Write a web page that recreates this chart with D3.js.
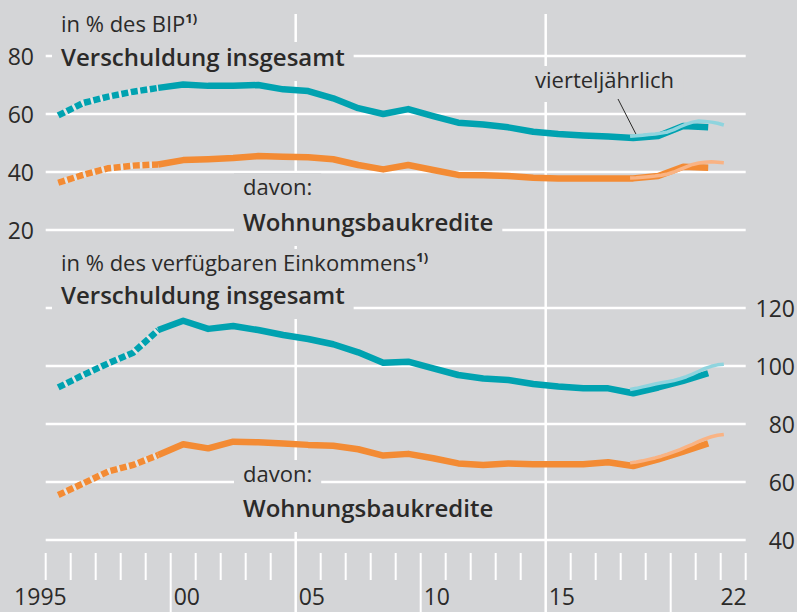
<!DOCTYPE html>
<html>
<head>
<meta charset="utf-8">
<script src="https://cdn.jsdelivr.net/npm/d3@7"></script>
<style>
  body { margin: 0; background: #d4d5d7; }
  svg text { font-family: "Open Sans", sans-serif; fill: #2b2a29; }
</style>
</head>
<body>
<div id="chart"></div>
<script>
// annual values, 1995 - 2021
var years = [1995, 1996, 1997, 1998, 1999, 2000, 2001, 2002, 2003, 2004, 2005, 2006, 2007, 2008,
             2009, 2010, 2011, 2012, 2013, 2014, 2015, 2016, 2017, 2018, 2019, 2020, 2021];
var bipTotal   = [59.5, 63.8, 66.0, 67.7, 69.0, 70.2, 69.7, 69.7, 70.0, 68.5, 67.9, 65.4, 62.0, 60.0,
                  61.7, 59.3, 57.0, 56.4, 55.4, 53.9, 53.1, 52.6, 52.2, 51.7, 52.4, 55.9, 55.4];
var bipHousing = [36.3, 39.0, 41.3, 42.2, 42.6, 44.1, 44.4, 44.8, 45.5, 45.3, 45.1, 44.4, 42.4, 40.9,
                  42.4, 40.7, 39.0, 38.9, 38.6, 38.0, 37.8, 37.8, 37.8, 37.8, 38.6, 41.8, 41.5];
var incTotal   = [92.6, 96.9, 100.9, 104.6, 112.4, 115.6, 112.8, 113.8, 112.4, 110.7, 109.3, 107.5, 104.7, 101.1,
                  101.5, 99.2, 96.9, 95.7, 95.2, 93.8, 92.9, 92.3, 92.3, 90.6, 92.6, 94.9, 97.5];
var incHousing = [55.5, 59.5, 63.6, 65.9, 69.3, 73.0, 71.6, 73.9, 73.7, 73.3, 72.8, 72.5, 71.3, 69.1,
                  69.7, 68.2, 66.4, 65.9, 66.4, 66.1, 66.1, 66.1, 66.8, 65.5, 67.8, 70.5, 73.3];

// quarterly values
var quarters = ["2018Q2", "2018Q3", "2018Q4", "2019Q1", "2019Q2", "2019Q3", "2019Q4", "2020Q1",
                "2020Q2", "2020Q3", "2020Q4", "2021Q1", "2021Q2", "2021Q3", "2021Q4", "2022Q1"];
var bipTotalQ   = [52.3, 52.5, 52.7, 52.9, 53.1, 53.4, 53.8, 54.6, 55.6, 56.5, 57.2, 57.6, 57.4, 57.2, 56.8, 56.2];
var bipHousingQ = [37.9, 38.0, 38.2, 38.4, 38.6, 38.9, 39.3, 40.0, 40.9, 41.8, 42.6, 43.1, 43.4, 43.5, 43.4, 43.2];
var incTotalQ   = [91.9, 92.3, 92.8, 93.3, 93.8, 94.2, 94.6, 95.0, 95.6, 96.3, 97.2, 98.2, 99.2, 99.9, 100.4, 100.6];
var incHousingQ = [66.6, 66.9, 67.3, 67.8, 68.3, 68.9, 69.6, 70.4, 71.2, 72.1, 73.0, 74.0, 74.9, 75.6, 76.1, 76.4];

var dashedUntil = 1999;   // values before 1999 drawn dashed
var topTicks = [20, 40, 60, 80];
var botTicks = [40, 60, 80, 100, 120];
var xLabelYears = [1995, 2000, 2005, 2010, 2015, 2022];
var xLabels = ["1995", "00", "05", "10", "15", "22"];

var width = 797, height = 612;
var bg = "#d4d5d7";
var teal = "#00a2b0", tealLight = "#8fd4de";
var orange = "#f38b34", orangeLight = "#f9b384";

var x = d3.scaleLinear().domain([1995, 2023]).range([45.7, 745.7]);
var yTop = d3.scaleLinear().domain([20, 80]).range([230, 56]);
var yBot = d3.scaleLinear().domain([40, 120]).range([540, 308]);

var svg = d3.select("#chart").append("svg")
    .attr("width", width)
    .attr("height", height);

svg.append("rect").attr("width", width).attr("height", height).attr("fill", bg);

var grid = svg.append("g").attr("stroke", "#fff");

// horizontal grid lines
grid.selectAll(".gt").data(topTicks).enter().append("line")
    .attr("x1", x(1995)).attr("x2", x(2023))
    .attr("y1", yTop).attr("y2", yTop)
    .attr("stroke-width", 2.5);
grid.selectAll(".gb").data(botTicks).enter().append("line")
    .attr("x1", x(1995)).attr("x2", x(2023))
    .attr("y1", yBot).attr("y2", yBot)
    .attr("stroke-width", 2.5);

// year ticks
var tickYears = d3.range(1995, 2024);
grid.selectAll(".tk").data(tickYears).enter().append("line")
    .attr("x1", function(d) { return x(d); })
    .attr("x2", function(d) { return x(d); })
    .attr("y1", function(d) { return (d == 2005 || d == 2015) ? 14 : 553; })
    .attr("y2", function(d) { return (d % 5 == 0 && d != 1995) ? height : 580; })
    .attr("stroke-width", function(d) { return (d == 2005 || d == 2015) ? 2.5 : 2; });

// axis labels
var yAxisTop = d3.axisLeft(yTop).tickValues(topTicks).tickSize(0).tickPadding(0);
var gyt = svg.append("g").attr("transform", "translate(34,0)").call(yAxisTop);
var yAxisBot = d3.axisRight(yBot).tickValues(botTicks).tickSize(0).tickPadding(0);
var gyb = svg.append("g").attr("transform", "translate(755,0)").call(yAxisBot);
[gyt, gyb].forEach(function(g) {
    g.select(".domain").remove();
    g.selectAll("text")
        .attr("font-family", null)
        .attr("font-size", 23)
        .attr("fill", null)
        .attr("dy", "0.36em");
});
gyb.selectAll("text").attr("text-anchor", "end").attr("x", 40);

svg.selectAll(".xl").data(xLabelYears).enter().append("text")
    .attr("x", function(d) {
        if (d == 1995) return x(1996) - 4;
        if (d == 2022) return x(2023) + 1;
        return x(d) + 3;
    })
    .attr("y", 605)
    .attr("font-size", 23)
    .attr("text-anchor", function(d) { return (d == 1995 || d == 2022) ? "end" : "start"; })
    .text(function(d, i) { return xLabels[i]; });

// annotations with background boxes that hide the grid
var notes = [
    { t: "in % des BIP", sup: "1)", x: 61, y: 32, bold: false },
    { t: "Verschuldung insgesamt", x: 61, y: 66, bold: true },
    { t: "davon:", x: 243, y: 195, bold: false },
    { t: "Wohnungsbaukredite", x: 243, y: 231, bold: true },
    { t: "vierteljährlich", x: 535, y: 88, bold: false },
    { t: "in % des verfügbaren Einkommens", sup: "1)", x: 61, y: 271, bold: false },
    { t: "Verschuldung insgesamt", x: 61, y: 304, bold: true },
    { t: "davon:", x: 243, y: 482, bold: false },
    { t: "Wohnungsbaukredite", x: 243, y: 517, bold: true }
];

var boxes = svg.append("g");
var labels = svg.append("g");
notes.forEach(function(n) {
    var t = labels.append("text")
        .attr("x", n.x).attr("y", n.y)
        .attr("font-size", n.bold ? 24 : 22)
        .attr("font-weight", n.bold ? 600 : 400)
        .text(n.t);
    if (n.sup) {
        t.append("tspan").attr("font-size", 13).attr("font-weight", 700)
            .attr("dy", -9).text(n.sup);
    }
    var b = t.node().getBBox();
    boxes.append("rect")
        .attr("x", b.x - 9).attr("y", b.y + 2)
        .attr("width", b.width + 18).attr("height", b.height + 6)
        .attr("fill", bg);
});

// leader line for "vierteljährlich"
svg.append("line")
    .attr("x1", 618).attr("y1", 99)
    .attr("x2", x(2018.65)).attr("y2", yTop(52.4))
    .attr("stroke", "#2b2a29").attr("stroke-width", 1);

// series
function annual(vals) {
    return years.map(function(yr, i) { return { x: yr + 0.5, v: vals[i], yr: yr }; });
}
function quarterly(vals) {
    return quarters.map(function(q, i) {
        var yr = +q.slice(0, 4), qq = +q.slice(5);
        return { x: yr + (qq - 0.5) / 4, v: vals[i] };
    });
}

function drawSeries(vals, valsQ, y, col, colLight) {
    var line = d3.line()
        .x(function(d) { return x(d.x); })
        .y(function(d) { return y(d.v); });
    var pts = annual(vals);
    var dashed = pts.filter(function(d) { return d.yr <= dashedUntil; });
    var solid = pts.filter(function(d) { return d.yr >= dashedUntil; });
    svg.append("path").attr("d", line(dashed))
        .attr("fill", "none").attr("stroke", "#e4e4e4").attr("stroke-width", 6.5);
    svg.append("path").attr("d", line(dashed))
        .attr("fill", "none").attr("stroke", col).attr("stroke-width", 6.5)
        .attr("stroke-dasharray", "7,2.6");
    svg.append("path").attr("d", line(solid))
        .attr("fill", "none").attr("stroke", col).attr("stroke-width", 6.5)
        .attr("stroke-linejoin", "round");
    svg.append("path").attr("d", line(quarterly(valsQ)))
        .attr("fill", "none").attr("stroke", colLight).attr("stroke-width", 3.5)
        .attr("stroke-linejoin", "round");
}

drawSeries(bipTotal, bipTotalQ, yTop, teal, tealLight);
drawSeries(bipHousing, bipHousingQ, yTop, orange, orangeLight);
drawSeries(incTotal, incTotalQ, yBot, teal, tealLight);
drawSeries(incHousing, incHousingQ, yBot, orange, orangeLight);
</script>
</body>
</html>
